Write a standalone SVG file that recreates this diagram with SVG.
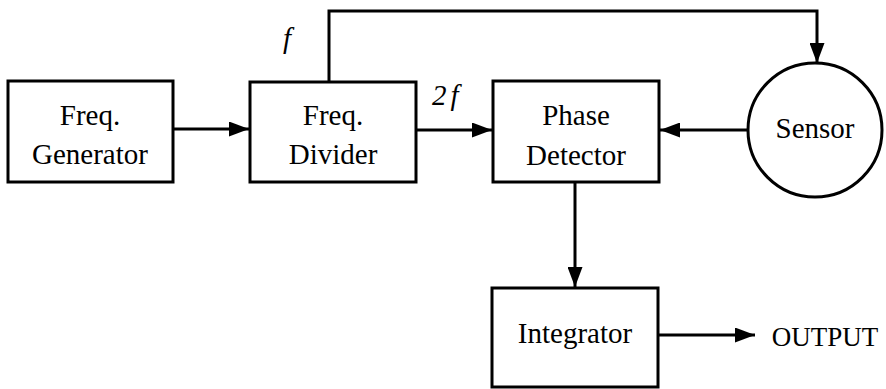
<svg xmlns="http://www.w3.org/2000/svg" width="886" height="389" viewBox="0 0 886 389">
<defs>
<style>
.box{fill:#fff;stroke:#000;stroke-width:3}
.t{font-family:"Liberation Serif","Times New Roman",serif;font-size:29px;fill:#000;text-anchor:middle}
.it{font-family:"Liberation Serif","DejaVu Serif",serif;font-size:29px;font-style:italic;fill:#000}
.ln{fill:none;stroke:#000;stroke-width:3}
</style>
<marker id="ah" viewBox="0 0 20 15" refX="20" refY="7.5" markerWidth="20" markerHeight="15" markerUnits="userSpaceOnUse" orient="auto">
<path d="M0,0 L20,7.5 L0,15 Z" fill="#000"/>
</marker>
</defs>
<rect width="886" height="389" fill="#fff"/>
<g id="connectors">
<line class="ln" x1="173" y1="129" x2="249" y2="129" marker-end="url(#ah)"/>
<polyline class="ln" points="329,82 329,11 817,11 817,63" marker-end="url(#ah)"/>
<line class="ln" x1="416" y1="130" x2="492" y2="130" marker-end="url(#ah)"/>
<line class="ln" x1="748" y1="130" x2="660" y2="130" marker-end="url(#ah)"/>
<line class="ln" x1="575" y1="182" x2="575" y2="287" marker-end="url(#ah)"/>
<line class="ln" x1="658" y1="335" x2="755" y2="335" marker-end="url(#ah)"/>
</g>
<g id="freq-generator">
<rect class="box" x="8" y="81" width="165" height="101"/>
<text class="t" x="90" y="125">Freq.</text>
<text class="t" x="90" y="164">Generator</text>
</g>
<g id="freq-divider">
<rect class="box" x="250" y="82" width="166" height="100"/>
<text class="t" x="333" y="125">Freq.</text>
<text class="t" x="333" y="164">Divider</text>
</g>
<g id="phase-detector">
<rect class="box" x="493" y="81" width="166" height="101"/>
<text class="t" x="576" y="125">Phase</text>
<text class="t" x="576" y="165">Detector</text>
</g>
<g id="sensor">
<circle class="box" cx="815" cy="130" r="67"/>
<text class="t" x="815" y="138">Sensor</text>
</g>
<g id="integrator">
<rect class="box" x="492" y="288" width="166" height="99"/>
<text class="t" x="575" y="343">Integrator</text>
</g>
<g id="labels">
<text class="it" x="283" y="48">f</text>
<text class="it" x="432" y="105">2<tspan dx="4">f</tspan></text>
<text class="t" x="825" y="346" style="font-size:27px">OUTPUT</text>
</g>
</svg>
